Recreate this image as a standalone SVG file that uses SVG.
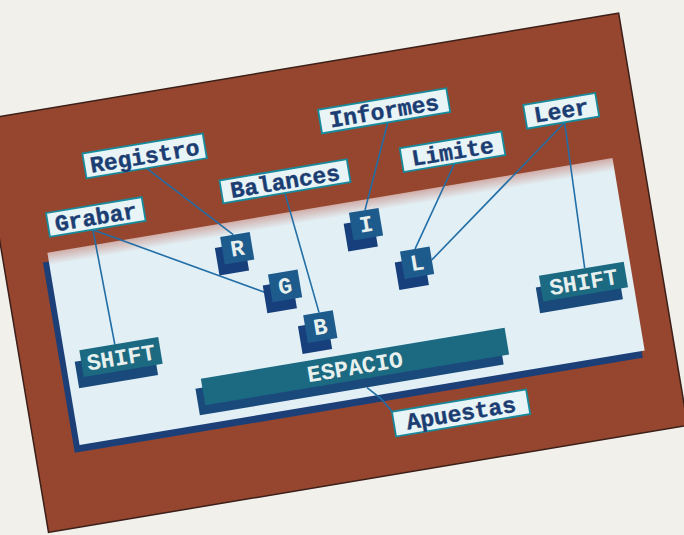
<svg xmlns="http://www.w3.org/2000/svg" width="684" height="535" viewBox="0 0 684 535">
<defs>
<linearGradient id="panel" gradientUnits="userSpaceOnUse" x1="0" y1="256" x2="0" y2="270">
<stop offset="0" stop-color="#cfa8a2"/>
<stop offset="1" stop-color="#e2f0f6"/>
</linearGradient>
<style>
.lbl rect{fill:#e8f4f6;stroke:#178a9c;stroke-width:1.8}
.lbl text{font-family:"Liberation Mono","DejaVu Sans Mono",monospace;font-weight:bold;font-size:23px;fill:#1b3d72;text-anchor:middle;stroke:#1b3d72;stroke-width:0.4}
.key .sh{fill:#173f7c}
.key .mn{fill:#1e5b8d}
.wide .mn{fill:#1c6a82}
.wide .sh{fill:#1a4a7c}
.key text{font-family:"Liberation Mono","DejaVu Sans Mono",monospace;font-weight:bold;font-size:23px;fill:#e8f0ee;text-anchor:middle}
.con line,.con polyline{stroke:#226ea6;stroke-width:1.6;fill:none}
</style>
</defs>
<rect x="0" y="0" width="684" height="535" fill="#f2f0eb"/>
<g transform="rotate(-9.5)">
<rect x="-40" y="115" width="648" height="418" fill="#96462f" stroke="#3a2018" stroke-width="1.5"/>
<rect x="-1" y="266" width="576" height="193" fill="#1d3f78"/>
<rect x="5" y="257" width="573" height="195" fill="url(#panel)"/>
<g id="connectors" class="con">
<line x1="116.6" y1="190" x2="191.3" y2="270"/>
<line x1="53.7" y1="242" x2="214.6" y2="333"/>
<line x1="53.7" y1="242" x2="56.4" y2="359"/>
<line x1="249.1" y1="237.5" x2="263.1" y2="361"/>
<line x1="362.4" y1="184.5" x2="325.3" y2="267.5"/>
<line x1="421.3" y1="236.3" x2="368.3" y2="314"/>
<line x1="536.7" y1="214" x2="383" y2="327.6"/>
<line x1="536.7" y1="214" x2="532.4" y2="361"/>
<polyline points="298,443 310,456 319,471"/>
</g>
<g id="key-R" class="key"><rect class="sh" x="171" y="280" width="30" height="28"/><rect class="mn" x="178" y="270" width="30" height="28"/><text x="193" y="291.5">R</text></g>
<g id="key-G" class="key"><rect class="sh" x="212" y="325" width="30" height="28"/><rect class="mn" x="219" y="315" width="30" height="28"/><text x="234" y="336.5">G</text></g>
<g id="key-I" class="key"><rect class="sh" x="302" y="277.5" width="30" height="28"/><rect class="mn" x="309" y="267.5" width="30" height="28"/><text x="324" y="289">I</text></g>
<g id="key-L" class="key"><rect class="sh" x="346" y="324" width="30" height="28"/><rect class="mn" x="353" y="314" width="30" height="28"/><text x="368" y="335.5">L</text></g>
<g id="key-B" class="key"><rect class="sh" x="240" y="371" width="30" height="28"/><rect class="mn" x="247" y="361" width="30" height="28"/><text x="262" y="382.5">B</text></g>
<g id="key-shift-left" class="key wide"><rect class="sh" x="14" y="369" width="80" height="27"/><rect class="mn" x="20.4" y="358.6" width="80" height="27"/><text x="60.4" y="380">SHIFT</text></g>
<g id="key-shift-right" class="key wide"><rect class="sh" x="481" y="372" width="84" height="26"/><rect class="mn" x="486" y="361" width="86" height="26"/><text x="529" y="382">SHIFT</text></g>
<g id="key-espacio" class="key wide"><rect class="sh" x="128.6" y="415.6" width="308" height="27"/><rect class="mn" x="135.6" y="406.6" width="308" height="27"/><text x="289.6" y="428">ESPACIO</text></g>
<g id="lbl-registro" class="lbl"><rect x="55.9" y="165.1" width="122" height="25"/><text x="116.9" y="185.5">Registro</text></g>
<g id="lbl-grabar" class="lbl"><rect x="10.2" y="217.8" width="97" height="24"/><text x="58.7" y="237.5">Grabar</text></g>
<g id="lbl-balances" class="lbl"><rect x="186.7" y="214.3" width="129" height="23"/><text x="251.2" y="233.5">Balances</text></g>
<g id="lbl-informes" class="lbl"><rect x="295.6" y="160.7" width="130" height="24"/><text x="360.6" y="180.5">Informes</text></g>
<g id="lbl-limite" class="lbl"><rect x="369.8" y="212.3" width="103" height="24"/><text x="421.3" y="232">Limite</text></g>
<g id="lbl-leer" class="lbl"><rect x="498.7" y="189.9" width="73" height="24"/><text x="535.2" y="209.5">Leer</text></g>
<g id="lbl-apuestas" class="lbl"><rect x="318.6" y="470.9" width="136" height="25"/><text x="386.6" y="491">Apuestas</text></g>
</g>
</svg>
